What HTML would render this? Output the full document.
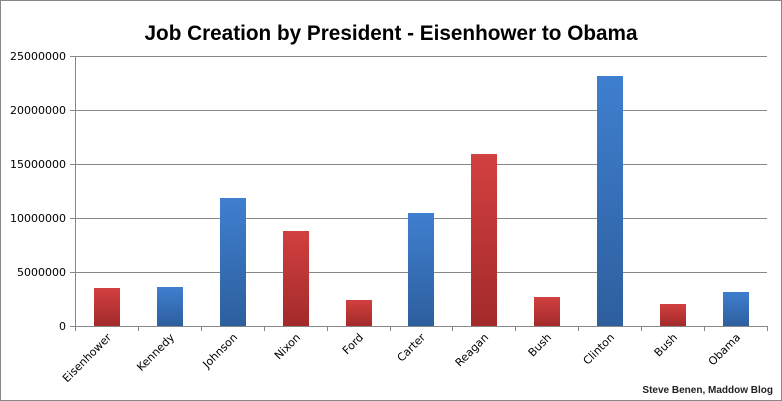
<!DOCTYPE html>
<html><head><meta charset="utf-8"><style>
html,body{margin:0;padding:0;background:#fff}
svg{display:block}
</style></head><body>
<svg width="782" height="401" viewBox="0 0 782 401" xmlns="http://www.w3.org/2000/svg">
<defs>
<linearGradient id="b" x1="0" y1="0" x2="0" y2="1"><stop offset="0" stop-color="#3f7fcf"/><stop offset="1" stop-color="#2d5f9e"/></linearGradient>
<linearGradient id="r" x1="0" y1="0" x2="0" y2="1"><stop offset="0" stop-color="#d24040"/><stop offset="1" stop-color="#a32a2a"/></linearGradient>
</defs>
<rect x="0.5" y="0.5" width="781" height="400" fill="#fff" stroke="#888"/>
<text x="391" y="40" text-anchor="middle" font-family="Liberation Sans, sans-serif" font-weight="bold" font-size="21" textLength="493" lengthAdjust="spacingAndGlyphs" fill="#000">Job Creation by President - Eisenhower to Obama</text>
<g stroke="#888" stroke-width="1">
<line x1="70" y1="56.5" x2="767" y2="56.5"/>
<line x1="70" y1="110.5" x2="767" y2="110.5"/>
<line x1="70" y1="164.5" x2="767" y2="164.5"/>
<line x1="70" y1="218.5" x2="767" y2="218.5"/>
<line x1="70" y1="272.5" x2="767" y2="272.5"/>
<line x1="75.5" y1="56" x2="75.5" y2="326"/>
</g>
<g font-family="DejaVu Sans, sans-serif" font-size="11" fill="#000" text-anchor="end">
<text x="66" y="60">25000000</text>
<text x="66" y="114">20000000</text>
<text x="66" y="168">15000000</text>
<text x="66" y="222">10000000</text>
<text x="66" y="276">5000000</text>
<text x="66" y="330">0</text>
</g>
<g>
<rect x="94" y="288" width="26" height="38" fill="url(#r)"/>
<rect x="157" y="287" width="26" height="39" fill="url(#b)"/>
<rect x="220" y="198" width="26" height="128" fill="url(#b)"/>
<rect x="283" y="231" width="26" height="95" fill="url(#r)"/>
<rect x="346" y="300" width="26" height="26" fill="url(#r)"/>
<rect x="408" y="213" width="26" height="113" fill="url(#b)"/>
<rect x="471" y="154" width="26" height="172" fill="url(#r)"/>
<rect x="534" y="297" width="26" height="29" fill="url(#r)"/>
<rect x="597" y="76" width="26" height="250" fill="url(#b)"/>
<rect x="660" y="304" width="26" height="22" fill="url(#r)"/>
<rect x="723" y="292" width="26" height="34" fill="url(#b)"/>
</g>
<g stroke="#888" stroke-width="1">
<line x1="70" y1="326.5" x2="767" y2="326.5"/>
<line x1="75.5" y1="326" x2="75.5" y2="331"/>
<line x1="138.5" y1="326" x2="138.5" y2="331"/>
<line x1="201.5" y1="326" x2="201.5" y2="331"/>
<line x1="264.5" y1="326" x2="264.5" y2="331"/>
<line x1="327.5" y1="326" x2="327.5" y2="331"/>
<line x1="390.5" y1="326" x2="390.5" y2="331"/>
<line x1="452.5" y1="326" x2="452.5" y2="331"/>
<line x1="515.5" y1="326" x2="515.5" y2="331"/>
<line x1="578.5" y1="326" x2="578.5" y2="331"/>
<line x1="641.5" y1="326" x2="641.5" y2="331"/>
<line x1="704.5" y1="326" x2="704.5" y2="331"/>
<line x1="767.5" y1="326" x2="767.5" y2="331"/>
</g>
<g font-family="DejaVu Sans, sans-serif" font-size="11" fill="#000" text-anchor="end">
<text transform="translate(112,338) rotate(-45)">Eisenhower</text>
<text transform="translate(175,338) rotate(-45)">Kennedy</text>
<text transform="translate(238,338) rotate(-45)">Johnson</text>
<text transform="translate(301,338) rotate(-45)">Nixon</text>
<text transform="translate(364,338) rotate(-45)">Ford</text>
<text transform="translate(426,338) rotate(-45)">Carter</text>
<text transform="translate(489,338) rotate(-45)">Reagan</text>
<text transform="translate(552,338) rotate(-45)">Bush</text>
<text transform="translate(615,338) rotate(-45)">Clinton</text>
<text transform="translate(678,338) rotate(-45)">Bush</text>
<text transform="translate(741,338) rotate(-45)">Obama</text>
</g>
<text x="773" y="393" text-anchor="end" font-family="Liberation Sans, sans-serif" font-weight="bold" font-size="10" fill="#222">Steve Benen, Maddow Blog</text>
</svg>
</body></html>
